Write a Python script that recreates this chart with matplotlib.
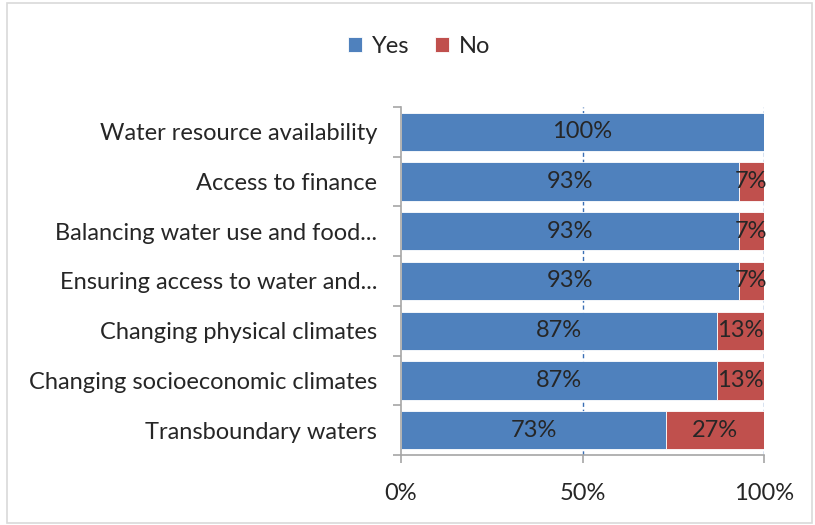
import matplotlib.pyplot as plt
import numpy as np
from matplotlib.patches import Rectangle

# survey results, top row first
categories = ["Water resource availability", "Access to finance",
              "Balancing water use and food...", "Ensuring access to water and...",
              "Changing physical climates", "Changing socioeconomic climates",
              "Transboundary waters"]
yes_pct = [100, 93, 93, 93, 87, 87, 73]
no_pct = [0, 7, 7, 7, 13, 13, 27]

BLUE = "#4f81bd"
RED = "#c0504d"
TXT = "#262626"

plt.rcParams["font.family"] = ["Lato", "DejaVu Sans"]

fig = plt.figure(figsize=(8.15, 5.25), dpi=100)
fig.patches.append(Rectangle((0.008, 0.004), 0.988, 0.99, transform=fig.transFigure,
                             fill=False, edgecolor="#d9d9d9", linewidth=1.2))
ax = fig.add_axes([0.492, 0.1333, 0.4455, 0.663])

n = len(categories)
y = np.arange(n)[::-1]
yes = np.array(yes_pct) / 100
no = np.array(no_pct) / 100

ax.barh(y, yes, height=0.77, color=BLUE, edgecolor="white", linewidth=0.6, label="Yes", zorder=2)
ax.barh(y, no, left=yes, height=0.77, color=RED, edgecolor="white", linewidth=0.6, label="No", zorder=2)

for yi, a, b in zip(y, yes_pct, no_pct):
    ax.text(a / 200, yi, f"{a}%", ha="center", va="center", fontsize=17, color=TXT, zorder=3)
    if b > 0:
        ax.text(a / 100 + b / 200, yi, f"{b}%", ha="center", va="center", fontsize=17, color=TXT, zorder=3)

ax.set_xlim(0, 1)
ax.set_ylim(-0.5, n - 0.5)
ax.set_xticks([0, 0.5, 1])
ax.set_xticklabels(["0%", "50%", "100%"])
ax.set_yticks(y)
ax.set_yticklabels(categories)
ax.set_yticks(np.arange(-0.5, n, 1), minor=True)

# dashed vertical gridlines behind the bars
for v in (0.5, 1.0):
    ax.axvline(v, color="#3a6fb5", linestyle=(0, (3, 2)), linewidth=1.0, zorder=1)

for side in ("top", "right"):
    ax.spines[side].set_visible(False)
for side in ("left", "bottom"):
    ax.spines[side].set_color("#a6a6a6")
    ax.spines[side].set_linewidth(1.2)

ax.tick_params(axis="y", which="major", length=0, pad=17, labelsize=17, labelcolor=TXT)
ax.tick_params(axis="y", which="minor", length=6, color="#a6a6a6", width=1.2)
ax.tick_params(axis="x", length=6, color="#a6a6a6", width=1.2, pad=14, labelsize=17, labelcolor=TXT)

ax.legend(loc="center", bbox_to_anchor=(0.514, 0.912), bbox_transform=fig.transFigure,
          ncol=2, frameon=False, fontsize=17, handlelength=0.6, handleheight=0.6,
          handletextpad=0.4, columnspacing=1.1, labelcolor=TXT)

fig.savefig("out.png", dpi=100)
